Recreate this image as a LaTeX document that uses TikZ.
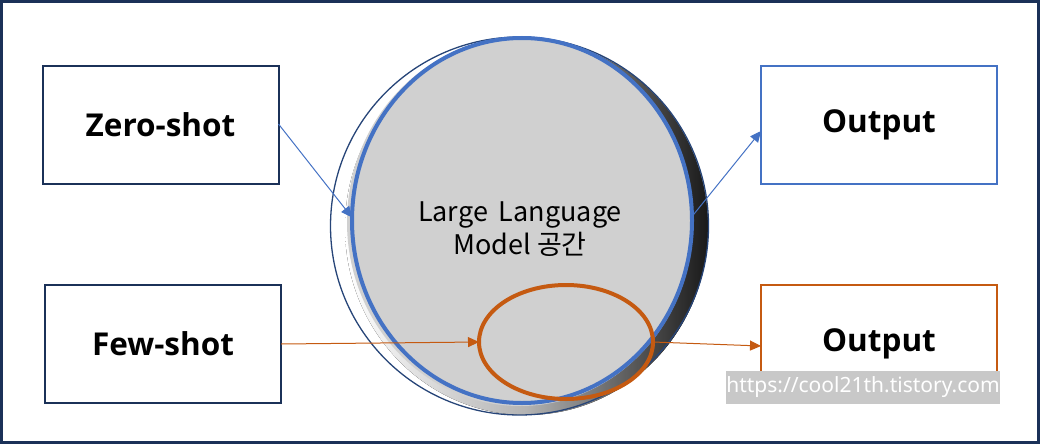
\documentclass[tikz,border=0pt]{standalone}
\usepackage{fontspec}
\setmainfont{Noto Sans}
\newfontfamily\krfont{Noto Sans CJK KR}
\newfontfamily\lblfont{Open Sans}
\usetikzlibrary{shapes.geometric,arrows.meta}
\definecolor{navy}{HTML}{1B3158}
\definecolor{mblue}{HTML}{4472C4}
\definecolor{morange}{HTML}{C55A11}
\definecolor{disk}{HTML}{D0D0D0}
\definecolor{wm}{HTML}{C8C8C8}
\tikzset{
  labelbox/.style={draw=#1, line width=2pt, minimum width=236pt, minimum height=118pt,
     inner sep=0pt, outer sep=0pt, font=\lblfont\bfseries\fontsize{31.5}{36}\selectfont},
  conn/.style={draw=#1, line width=1pt, -{Triangle[length=11pt,width=10pt]}},
}
\begin{document}
\begin{tikzpicture}[x=1pt,y=-1pt]
\useasboundingbox (0,0) rectangle (1040,444);
\draw[navy, line width=3pt] (1.5,1.5) rectangle (1038.5,442.5);
% boxes
\node[labelbox=navy] (zs) at (160.5,125) {\raisebox{-2pt}{Zero-shot}};
\node[labelbox=navy] (fs) at (163,344) {\raisebox{-2pt}{Few-shot}};
\node[labelbox=mblue] (o1) at (879,125) {\raisebox{-2pt}{Output}};
\node[labelbox=morange] (o2) at (879,344) {\raisebox{-2pt}{Output}};
% LLM sphere
\fill[left color=white, right color=black!90, middle color=gray!60] (526.5,227.5) ellipse [x radius=181.5, y radius=187.5];
\fill[disk] (520,222) ellipse [x radius=173, y radius=184];
\draw[navy!70!mblue, line width=1.3pt] (519.5,226) circle [radius=189];
\node[ellipse, draw=mblue, line width=4pt, minimum width=340pt, minimum height=365pt,
      inner sep=0pt, outer sep=0pt] (llm) at (522,220.5) {};
\node[ellipse, draw=morange, line width=4pt, minimum width=174pt, minimum height=114pt,
      inner sep=0pt, outer sep=0pt] (few) at (566,342) {};
\node[align=center, font=\krfont\fontsize{27}{33}\selectfont] (llmtext) at (520,229) {\spaceskip=11pt Large Language\\Model 공간};
% connectors
\draw[conn=mblue] ([yshift=1pt]zs.east) -- ([yshift=3pt]llm.west);
\draw[conn=mblue] ([yshift=4pt]llm.east) -- ([yshift=-6pt]o1.west);
\draw[conn=morange] (fs.east) -- (few.west);
\draw[conn=morange] (few.east) -- ([yshift=-2pt]o2.west);
% watermark
\node[fill=wm, text=white, inner sep=0pt, minimum width=274pt, minimum height=33pt,
      font=\fontsize{21}{24}\selectfont] (wmk) at (863,387.5) {https://cool21th.tistory.com};
\end{tikzpicture}
\end{document}
